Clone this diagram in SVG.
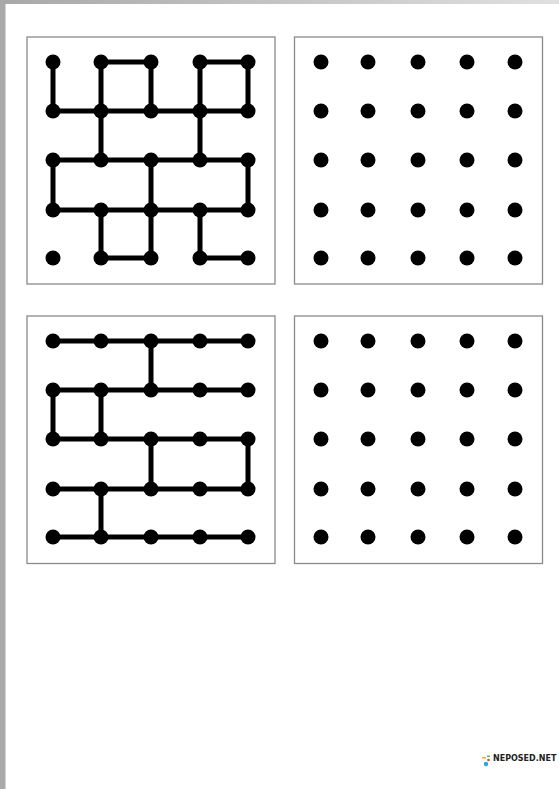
<svg xmlns="http://www.w3.org/2000/svg" width="559" height="789" viewBox="0 0 559 789">
<defs>
<linearGradient id="topg" x1="0" y1="0" x2="1" y2="0">
<stop offset="0" stop-color="#a8a8a8"/>
<stop offset="1" stop-color="#e0e0e0"/>
</linearGradient>
<style>
.box{fill:#fff;stroke:#8a8a8a;stroke-width:1.3}
.e{stroke:#000;stroke-width:5;stroke-linecap:round;fill:none}
.d{fill:#000}
.logo{font-family:"DejaVu Sans",sans-serif;font-weight:bold;font-size:8px;fill:#222}
</style>
</defs>
<rect x="0" y="0" width="559" height="789" fill="#fff"/>
<rect x="0" y="0" width="559" height="4" fill="url(#topg)"/>
<rect x="0" y="0" width="5.5" height="789" fill="#aaaaaa"/>

<g id="box-tl"><rect class="box" x="27" y="37" width="248" height="247"/></g>
<g id="box-tr"><rect class="box" x="294.5" y="37" width="248" height="247"/></g>
<g id="box-bl"><rect class="box" x="27" y="316" width="248" height="247.5"/></g>
<g id="box-br"><rect class="box" x="294.5" y="316" width="248" height="247.5"/></g>

<g id="connectors">
<!-- top-left grid -->
<path class="e" d="M101 62H151 M200 62H248
M53 62V111 M101 62V111 M151 62V111 M200 62V111 M248 62V111
M53 111H248
M101 111V160 M200 111V160
M53 160H248
M53 160V210 M151 160V210 M248 160V210
M53 210H248
M101 210V258 M151 210V258 M200 210V258
M101 258H151 M200 258H248"/>
<!-- bottom-left grid -->
<path class="e" d="M53 341H248
M151 341V390
M53 390H248
M53 390V439 M101 390V439
M53 439H248
M151 439V489 M248 439V489
M53 489H248
M101 489V537
M53 537H248"/>
</g>

<g id="dots-tl" class="d">
<circle cx="53" cy="62" r="7.5"/><circle cx="101" cy="62" r="7.5"/><circle cx="151" cy="62" r="7.5"/><circle cx="200" cy="62" r="7.5"/><circle cx="248" cy="62" r="7.5"/>
<circle cx="53" cy="111" r="7.5"/><circle cx="101" cy="111" r="7.5"/><circle cx="151" cy="111" r="7.5"/><circle cx="200" cy="111" r="7.5"/><circle cx="248" cy="111" r="7.5"/>
<circle cx="53" cy="160" r="7.5"/><circle cx="101" cy="160" r="7.5"/><circle cx="151" cy="160" r="7.5"/><circle cx="200" cy="160" r="7.5"/><circle cx="248" cy="160" r="7.5"/>
<circle cx="53" cy="210" r="7.5"/><circle cx="101" cy="210" r="7.5"/><circle cx="151" cy="210" r="7.5"/><circle cx="200" cy="210" r="7.5"/><circle cx="248" cy="210" r="7.5"/>
<circle cx="53" cy="258" r="7.5"/><circle cx="101" cy="258" r="7.5"/><circle cx="151" cy="258" r="7.5"/><circle cx="200" cy="258" r="7.5"/><circle cx="248" cy="258" r="7.5"/>
</g>
<g id="dots-tr" class="d">
<circle cx="321" cy="62" r="7.5"/><circle cx="368" cy="62" r="7.5"/><circle cx="418" cy="62" r="7.5"/><circle cx="467" cy="62" r="7.5"/><circle cx="515" cy="62" r="7.5"/>
<circle cx="321" cy="111" r="7.5"/><circle cx="368" cy="111" r="7.5"/><circle cx="418" cy="111" r="7.5"/><circle cx="467" cy="111" r="7.5"/><circle cx="515" cy="111" r="7.5"/>
<circle cx="321" cy="160" r="7.5"/><circle cx="368" cy="160" r="7.5"/><circle cx="418" cy="160" r="7.5"/><circle cx="467" cy="160" r="7.5"/><circle cx="515" cy="160" r="7.5"/>
<circle cx="321" cy="210" r="7.5"/><circle cx="368" cy="210" r="7.5"/><circle cx="418" cy="210" r="7.5"/><circle cx="467" cy="210" r="7.5"/><circle cx="515" cy="210" r="7.5"/>
<circle cx="321" cy="258" r="7.5"/><circle cx="368" cy="258" r="7.5"/><circle cx="418" cy="258" r="7.5"/><circle cx="467" cy="258" r="7.5"/><circle cx="515" cy="258" r="7.5"/>
</g>
<g id="dots-bl" class="d">
<circle cx="53" cy="341" r="7.5"/><circle cx="101" cy="341" r="7.5"/><circle cx="151" cy="341" r="7.5"/><circle cx="200" cy="341" r="7.5"/><circle cx="248" cy="341" r="7.5"/>
<circle cx="53" cy="390" r="7.5"/><circle cx="101" cy="390" r="7.5"/><circle cx="151" cy="390" r="7.5"/><circle cx="200" cy="390" r="7.5"/><circle cx="248" cy="390" r="7.5"/>
<circle cx="53" cy="439" r="7.5"/><circle cx="101" cy="439" r="7.5"/><circle cx="151" cy="439" r="7.5"/><circle cx="200" cy="439" r="7.5"/><circle cx="248" cy="439" r="7.5"/>
<circle cx="53" cy="489" r="7.5"/><circle cx="101" cy="489" r="7.5"/><circle cx="151" cy="489" r="7.5"/><circle cx="200" cy="489" r="7.5"/><circle cx="248" cy="489" r="7.5"/>
<circle cx="53" cy="537" r="7.5"/><circle cx="101" cy="537" r="7.5"/><circle cx="151" cy="537" r="7.5"/><circle cx="200" cy="537" r="7.5"/><circle cx="248" cy="537" r="7.5"/>
</g>
<g id="dots-br" class="d">
<circle cx="321" cy="341" r="7.5"/><circle cx="368" cy="341" r="7.5"/><circle cx="418" cy="341" r="7.5"/><circle cx="467" cy="341" r="7.5"/><circle cx="515" cy="341" r="7.5"/>
<circle cx="321" cy="390" r="7.5"/><circle cx="368" cy="390" r="7.5"/><circle cx="418" cy="390" r="7.5"/><circle cx="467" cy="390" r="7.5"/><circle cx="515" cy="390" r="7.5"/>
<circle cx="321" cy="439" r="7.5"/><circle cx="368" cy="439" r="7.5"/><circle cx="418" cy="439" r="7.5"/><circle cx="467" cy="439" r="7.5"/><circle cx="515" cy="439" r="7.5"/>
<circle cx="321" cy="489" r="7.5"/><circle cx="368" cy="489" r="7.5"/><circle cx="418" cy="489" r="7.5"/><circle cx="467" cy="489" r="7.5"/><circle cx="515" cy="489" r="7.5"/>
<circle cx="321" cy="537" r="7.5"/><circle cx="368" cy="537" r="7.5"/><circle cx="418" cy="537" r="7.5"/><circle cx="467" cy="537" r="7.5"/><circle cx="515" cy="537" r="7.5"/>
</g>

<g id="logo">
<rect x="482" y="757" width="4" height="1.5" fill="#f2a33a"/>
<rect x="487" y="755.5" width="3" height="1.5" fill="#5cb85c"/>
<circle cx="488.5" cy="760" r="1.3" fill="#e0443a"/>
<circle cx="486" cy="764" r="2.2" fill="#2aa7e0"/>
<text class="logo" x="493" y="761">NEPOSED.NET</text>
</g>
</svg>
